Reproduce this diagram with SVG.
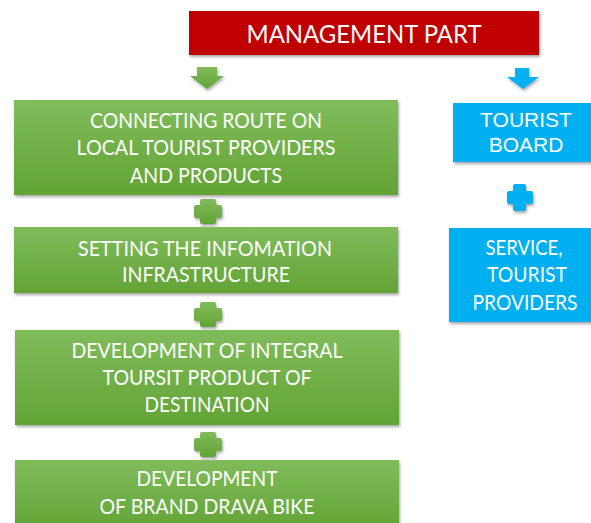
<svg xmlns="http://www.w3.org/2000/svg" width="591" height="523" viewBox="0 0 591 523">
<defs>
<linearGradient id="g" x1="0" y1="0" x2="0" y2="1">
<stop offset="0" stop-color="#80bc5b"/>
<stop offset="1" stop-color="#62a435"/>
</linearGradient>
<filter id="sh" x="-10%" y="-10%" width="120%" height="130%">
<feDropShadow dx="1" dy="2" stdDeviation="1.5" flood-color="#000" flood-opacity="0.35"/>
</filter>
<style>
.gbox{fill:url(#g);filter:url(#sh)}
.bbox{fill:#00b0f0;filter:url(#sh)}
.gt{fill:#fff;font-family:Lato,"Open Sans",sans-serif;font-size:20.5px;text-anchor:middle}
.bt{fill:#fff;font-family:"Liberation Sans",Arial,sans-serif;font-size:21px;text-anchor:middle}
.gc{fill:url(#g);filter:url(#sh)}
.bc{fill:#00b0f0;filter:url(#sh)}
</style>
</defs>
<g id="management">
<rect x="189" y="11" width="350" height="44" fill="#c00000" filter="url(#sh)"/>
<text x="364" y="43" fill="#fff" font-family="Lato,'Open Sans',sans-serif" font-size="25" text-anchor="middle" textLength="235" lengthAdjust="spacingAndGlyphs">MANAGEMENT PART</text>
</g>
<g id="connectors">
<path class="gc" d="M197,67 H217 V76 H224 L207,89 L190,76 H197 Z"/>
<path class="bc" d="M515,68 H529 V77 H539 L523,89 L507,77 H515 Z"/>
<path class="gc" d="M202,199 H214 Q216,199 216,201 V205 H220 Q222,205 222,207 V216 Q222,218 220,218 H216 V222 Q216,224 214,224 H202 Q200,224 200,222 V218 H196 Q194,218 194,216 V207 Q194,205 196,205 H200 V201 Q200,199 202,199 Z"/>
<path class="gc" d="M202,302 H214 Q216,302 216,304 V308 H220 Q222,308 222,310 V319 Q222,321 220,321 H216 V325 Q216,327 214,327 H202 Q200,327 200,325 V321 H196 Q194,321 194,319 V310 Q194,308 196,308 H200 V304 Q200,302 202,302 Z"/>
<path class="gc" d="M202,432 H214 Q216,432 216,434 V438 H220 Q222,438 222,440 V449 Q222,451 220,451 H216 V455 Q216,457 214,457 H202 Q200,457 200,455 V451 H196 Q194,451 194,449 V440 Q194,438 196,438 H200 V434 Q200,432 202,432 Z"/>
<path class="bc" d="M515,184 H524 Q526,184 526,186 V191 H531 Q533,191 533,193 V202 Q533,204 531,204 H526 V209 Q526,211 524,211 H515 Q513,211 513,209 V204 H509 Q507,204 507,202 V193 Q507,191 509,191 H513 V186 Q513,184 515,184 Z"/>
</g>
<g id="box1">
<rect class="gbox" x="14" y="100" width="384" height="95"/>
<text class="gt" x="206" y="128" textLength="232" lengthAdjust="spacingAndGlyphs">CONNECTING ROUTE ON</text>
<text class="gt" x="206" y="155" textLength="259" lengthAdjust="spacingAndGlyphs">LOCAL TOURIST PROVIDERS</text>
<text class="gt" x="206" y="183" textLength="152" lengthAdjust="spacingAndGlyphs">AND PRODUCTS</text>
</g>
<g id="box2">
<rect class="gbox" x="14" y="227" width="384" height="66"/>
<text class="gt" x="205" y="256" textLength="254" lengthAdjust="spacingAndGlyphs">SETTING THE INFOMATION</text>
<text class="gt" x="206" y="282" textLength="168" lengthAdjust="spacingAndGlyphs">INFRASTRUCTURE</text>
</g>
<g id="box3">
<rect class="gbox" x="15" y="330" width="384" height="95"/>
<text class="gt" x="207" y="358" textLength="271" lengthAdjust="spacingAndGlyphs">DEVELOPMENT OF INTEGRAL</text>
<text class="gt" x="207" y="385" textLength="209" lengthAdjust="spacingAndGlyphs">TOURSIT PRODUCT OF</text>
<text class="gt" x="207" y="412" textLength="125" lengthAdjust="spacingAndGlyphs">DESTINATION</text>
</g>
<g id="box4">
<rect class="gbox" x="15" y="460" width="384" height="70"/>
<text class="gt" x="207" y="486" textLength="141" lengthAdjust="spacingAndGlyphs">DEVELOPMENT</text>
<text class="gt" x="207" y="514" textLength="215" lengthAdjust="spacingAndGlyphs">OF BRAND DRAVA BIKE</text>
</g>
<g id="tourist-board">
<rect class="bbox" x="453" y="103" width="150" height="59"/>
<text class="bt" x="526" y="127">TOURIST</text>
<text class="bt" x="526" y="152">BOARD</text>
</g>
<g id="service">
<rect class="bbox" x="449" y="228" width="152" height="94"/>
<text class="gt" x="524" y="255" textLength="77" lengthAdjust="spacingAndGlyphs">SERVICE,</text>
<text class="gt" x="527" y="282" textLength="80" lengthAdjust="spacingAndGlyphs">TOURIST</text>
<text class="gt" x="525" y="310" textLength="105" lengthAdjust="spacingAndGlyphs">PROVIDERS</text>
</g>
</svg>
